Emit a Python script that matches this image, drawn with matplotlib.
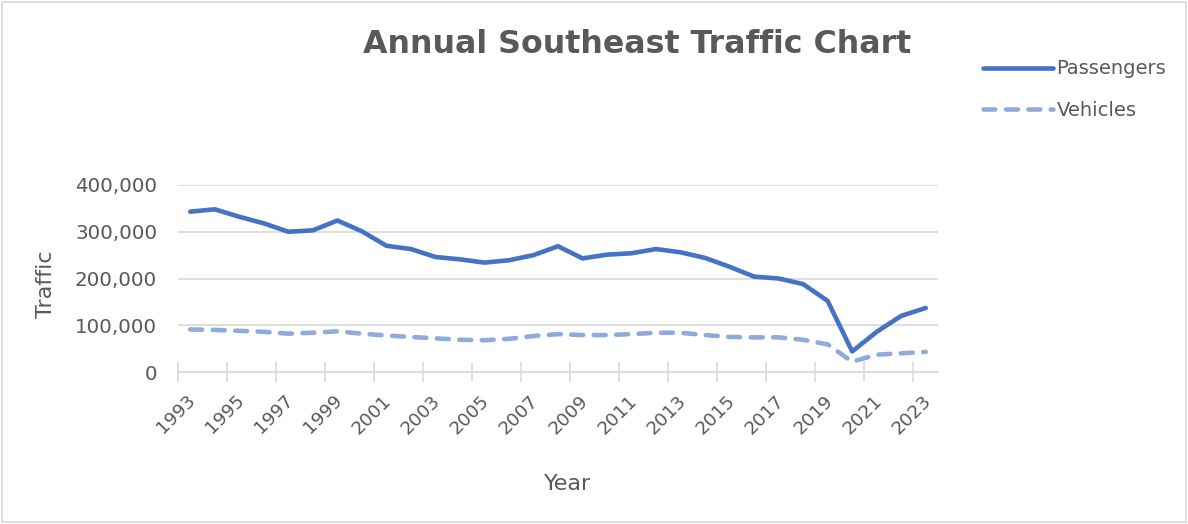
import numpy as np
import matplotlib
matplotlib.use("Agg")
import matplotlib.pyplot as plt
import matplotlib.transforms as mtransforms
from matplotlib.patches import Rectangle

years = list(range(1993, 2024))

passengers = [343000, 348000, 332000, 318000, 300000, 303000, 324000, 301000,
              270000, 263000, 246000, 241000, 234000, 239000, 250000, 269000,
              243000, 251000, 254000, 263000, 256000, 244000, 225000, 204000,
              200000, 188000, 152000, 44000, 86000, 120000, 137000]

vehicles = [91000, 90000, 88000, 86000, 82000, 84000, 87000, 82000,
            78000, 75000, 72000, 69000, 68000, 71000, 77000, 81000,
            79000, 79000, 81000, 84000, 84000, 79000, 75000, 74000,
            74000, 69000, 59000, 22000, 37000, 40000, 43000]

yticks = [0, 100000, 200000, 300000, 400000]

TEXT = "#595959"
GRID = "#D9D9D9"
BLUE = "#4472C4"
LIGHT = "#8FAADC"

plt.rcParams["font.family"] = ["DejaVu Sans"]

fig = plt.figure(figsize=(11.88, 5.24), dpi=100)
ax = fig.add_axes([178 / 1188, 152 / 524, 760 / 1188, 187 / 524])

x = np.arange(len(years))
ax.plot(x, passengers, color=BLUE, linewidth=3.3, solid_capstyle="round",
        solid_joinstyle="round", label="Passengers")
ax.plot(x, vehicles, color=LIGHT, linewidth=3.3, dashes=(2.6, 2.3),
        dash_capstyle="round", label="Vehicles")

ax.set_xlim(-0.5, len(years) - 0.5)
ax.set_ylim(0, 400000)
ax.set_yticks(yticks)
ax.set_yticklabels([f"{v:,}" for v in yticks])
ax.grid(axis="y", color=GRID, linewidth=1.2)
ax.set_axisbelow(True)

# category tick marks between every two years, labels on odd years
ax.set_xticks(np.arange(-0.5, len(years) - 1, 2))
ax.set_xticklabels([])
ax.set_xticks(x[::2], minor=True)
ax.set_xticklabels([str(y) for y in years[::2]], minor=True, rotation=45,
                   ha="right", va="top", rotation_mode="anchor")
ax.tick_params(axis="x", which="major", length=14, width=1.2, color=GRID,
               direction="inout")
ax.tick_params(axis="x", which="minor", length=0, pad=14, labelsize=13.3,
               labelcolor=TEXT)
ax.tick_params(axis="y", length=0, pad=15, labelsize=14.3, labelcolor=TEXT)

# nudge the rotated year labels a little to the left
shift = mtransforms.ScaledTranslation(-4 / 100, 0, fig.dpi_scale_trans)
for lab in ax.get_xticklabels(minor=True):
    lab.set_transform(lab.get_transform() + shift)

for side in ["top", "right", "left"]:
    ax.spines[side].set_visible(False)
ax.spines["bottom"].set_color(GRID)
ax.spines["bottom"].set_linewidth(1.2)

ax.set_xlabel("Year", fontsize=16, color=TEXT)
ax.set_ylabel("Traffic", fontsize=16, color=TEXT)
ax.xaxis.set_label_coords(0.513, -0.545)
ax.yaxis.set_label_coords(-0.16, 0.47)

fig.text(637 / 1188, 1 - 53 / 524, "Annual Southeast Traffic Chart",
         fontsize=22.8, fontweight="bold", color=TEXT, ha="center", va="baseline")

leg = fig.legend(loc="upper left", bbox_to_anchor=(965 / 1188, 1 - 42 / 524),
                 frameon=False, fontsize=14, handlelength=3.6,
                 handletextpad=0.2, labelspacing=1.15, labelcolor=TEXT)

fig.patches.append(Rectangle((0.002, 0.003), 0.996, 0.994, transform=fig.transFigure,
                             fill=False, edgecolor=GRID, linewidth=1.2))

fig.savefig("out.png", dpi=100, facecolor="white")
